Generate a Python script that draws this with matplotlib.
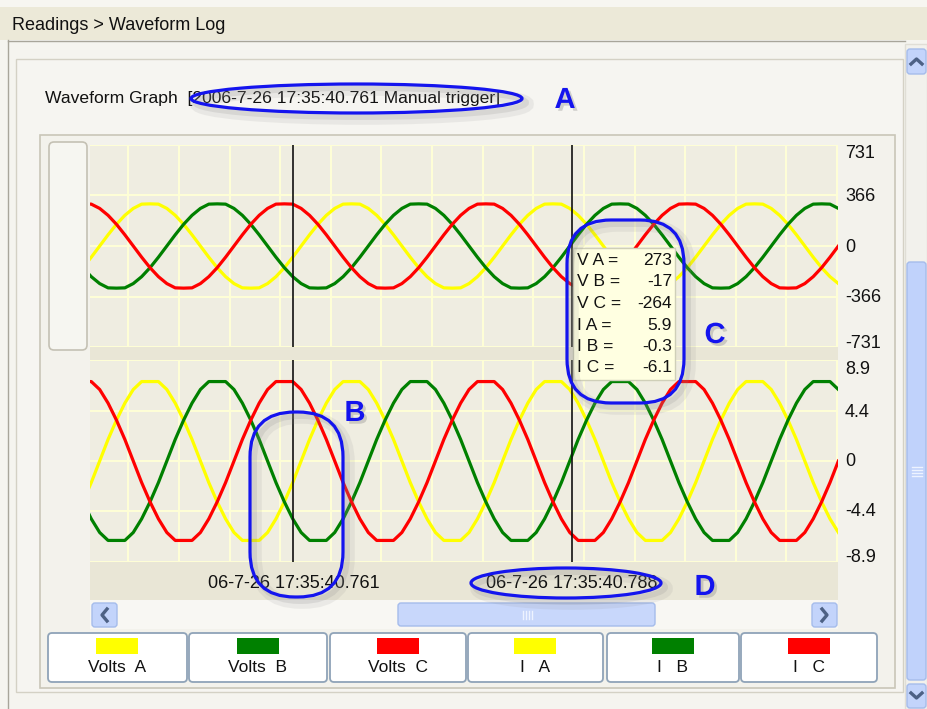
import numpy as np
import matplotlib
matplotlib.use('Agg')
import matplotlib.pyplot as plt
import matplotlib.patheffects as pe
from matplotlib.patches import Rectangle, FancyBboxPatch, Ellipse

plt.rcParams['font.family'] = ['Liberation Sans', 'DejaVu Sans']

# waveform log samples, one every 15 degrees of the cycle
sample_ms = 0.8142
first_sample_ms = -20.41   # relative to the trigger time

volts_a = [
    -157, -81, 0, 81, 157, 222, 272, 303,
    305, 303, 272, 222, 157, 81, 0, -81, -157, -222, -272, -303,
    -305, -303, -272, -222, -157, -81, 0, 81, 157, 222, 272, 303,
    305, 303, 272, 222, 157, 81, 0, -81, -157, -222, -272, -303,
    -305, -303, -272, -222, -157, -81, 0, 81, 157, 222, 272, 303,
    305, 303, 272, 222, 157, 81, 0, -81, -157, -222, -272, -303,
    -305, -303, -272, -222, -157, -81, 0, 81, 157, 222, 272, 303,
    305, 303, 272, 222, 157, 81, 0, -81, -157, -222, -272,
]
volts_b = [
    -157, -222, -272, -303,
    -305, -303, -272, -222, -157, -81, 0, 81, 157, 222, 272, 303,
    305, 303, 272, 222, 157, 81, 0, -81, -157, -222, -272, -303,
    -305, -303, -272, -222, -157, -81, 0, 81, 157, 222, 272, 303,
    305, 303, 272, 222, 157, 81, 0, -81, -157, -222, -272, -303,
    -305, -303, -272, -222, -157, -81, 0, 81, 157, 222, 272, 303,
    305, 303, 272, 222, 157, 81, 0, -81, -157, -222, -272, -303,
    -305, -303, -272, -222, -157, -81, 0, 81, 157, 222, 272, 303,
    305, 303, 272,
]
volts_c = [
    305, 303, 272, 222, 157, 81, 0, -81, -157, -222, -272, -303,
    -305, -303, -272, -222, -157, -81, 0, 81, 157, 222, 272, 303,
    305, 303, 272, 222, 157, 81, 0, -81, -157, -222, -272, -303,
    -305, -303, -272, -222, -157, -81, 0, 81, 157, 222, 272, 303,
    305, 303, 272, 222, 157, 81, 0, -81, -157, -222, -272, -303,
    -305, -303, -272, -222, -157, -81, 0, 81, 157, 222, 272, 303,
    305, 303, 272, 222, 157, 81, 0, -81, -157, -222, -272, -303,
    -305, -303, -272, -222, -157, -81, 0,
]
amps_a = [
    -3.6, -1.9, 0.0, 1.9, 3.6, 5.1, 6.3, 7.0,
    7.0, 7.0, 6.3, 5.1, 3.6, 1.9, 0.0, -1.9, -3.6, -5.1, -6.3, -7.0,
    -7.0, -7.0, -6.3, -5.1, -3.6, -1.9, 0.0, 1.9, 3.6, 5.1, 6.3, 7.0,
    7.0, 7.0, 6.3, 5.1, 3.6, 1.9, 0.0, -1.9, -3.6, -5.1, -6.3, -7.0,
    -7.0, -7.0, -6.3, -5.1, -3.6, -1.9, 0.0, 1.9, 3.6, 5.1, 6.3, 7.0,
    7.0, 7.0, 6.3, 5.1, 3.6, 1.9, 0.0, -1.9, -3.6, -5.1, -6.3, -7.0,
    -7.0, -7.0, -6.3, -5.1, -3.6, -1.9, 0.0, 1.9, 3.6, 5.1, 6.3, 7.0,
    7.0, 7.0, 6.3, 5.1, 3.6, 1.9, 0.0, -1.9, -3.6, -5.1, -6.3,
]
amps_b = [
    -3.6, -5.1, -6.3, -7.0,
    -7.0, -7.0, -6.3, -5.1, -3.6, -1.9, 0.0, 1.9, 3.6, 5.1, 6.3, 7.0,
    7.0, 7.0, 6.3, 5.1, 3.6, 1.9, 0.0, -1.9, -3.6, -5.1, -6.3, -7.0,
    -7.0, -7.0, -6.3, -5.1, -3.6, -1.9, 0.0, 1.9, 3.6, 5.1, 6.3, 7.0,
    7.0, 7.0, 6.3, 5.1, 3.6, 1.9, 0.0, -1.9, -3.6, -5.1, -6.3, -7.0,
    -7.0, -7.0, -6.3, -5.1, -3.6, -1.9, 0.0, 1.9, 3.6, 5.1, 6.3, 7.0,
    7.0, 7.0, 6.3, 5.1, 3.6, 1.9, 0.0, -1.9, -3.6, -5.1, -6.3, -7.0,
    -7.0, -7.0, -6.3, -5.1, -3.6, -1.9, 0.0, 1.9, 3.6, 5.1, 6.3, 7.0,
    7.0, 7.0, 6.3,
]
amps_c = [
    7.0, 7.0, 6.3, 5.1, 3.6, 1.9, 0.0, -1.9, -3.6, -5.1, -6.3, -7.0,
    -7.0, -7.0, -6.3, -5.1, -3.6, -1.9, 0.0, 1.9, 3.6, 5.1, 6.3, 7.0,
    7.0, 7.0, 6.3, 5.1, 3.6, 1.9, 0.0, -1.9, -3.6, -5.1, -6.3, -7.0,
    -7.0, -7.0, -6.3, -5.1, -3.6, -1.9, 0.0, 1.9, 3.6, 5.1, 6.3, 7.0,
    7.0, 7.0, 6.3, 5.1, 3.6, 1.9, 0.0, -1.9, -3.6, -5.1, -6.3, -7.0,
    -7.0, -7.0, -6.3, -5.1, -3.6, -1.9, 0.0, 1.9, 3.6, 5.1, 6.3, 7.0,
    7.0, 7.0, 6.3, 5.1, 3.6, 1.9, 0.0, -1.9, -3.6, -5.1, -6.3, -7.0,
    -7.0, -7.0, -6.3, -5.1, -3.6, -1.9, 0.0,
]

trigger_stamp = '2006-7-26 17:35:40.761'
trigger_kind = 'Manual trigger'
cursor_sec = [40.761, 40.788]
cursor_labels = ['06-7-26 17:35:40.761', '06-7-26 17:35:40.788']

volt_ticks = [731, 366, 0, -366, -731]
amp_ticks = [8.9, 4.4, 0, -4.4, -8.9]
amp_tick_labels = ['8.9', '4.4', '0', '-4.4', '-8.9']

readout_names = ['V A', 'V B', 'V C', 'I A', 'I B', 'I C']
readout_values = ['273', '-17', '-264', '5.9', '-0.3', '-6.1']

legend_labels = ['Volts  A', 'Volts  B', 'Volts  C', 'I   A', 'I   B', 'I   C']
phase_colors = ['#FFFF00', '#008000', '#FF0000']

PLOT_BG = '#EFEDE1'
STRIP = '#E9E6D6'
GRID = '#FFFFD6'
PANEL = '#F5F4EF'
BLUE = '#1414EE'
SCROLL = '#C3D4FB'
SCROLL_EDGE = '#A5BCEB'
ARROW = '#4D6185'

W, H = 927, 709
fig = plt.figure(figsize=(W / 100, H / 100), dpi=100)


def px_axes(x0, y0, x1, y1, z=1):
    return fig.add_axes([x0 / W, 1 - y1 / H, (x1 - x0) / W, (y1 - y0) / H], zorder=z)


bg = px_axes(0, 0, W, H, z=0)
bg.set_xlim(0, W)
bg.set_ylim(H, 0)
bg.axis('off')

# window chrome
bg.add_patch(Rectangle((0, 0), W, H, fc=PANEL, ec='none'))
bg.add_patch(Rectangle((0, 0), W, 40, fc='#ECE9D8', ec='none'))
bg.add_patch(Rectangle((0, 0), W, 7, fc='#F7F6F1', ec='none'))
bg.text(12, 26, 'Readings > Waveform Log', fontsize=13, va='center', color='#111111')
bg.plot([8, 905], [40.5, 40.5], color='#A8A59A', lw=1)
bg.plot([8.5, 8.5], [40, H], color='#A8A59A', lw=1)
bg.add_patch(Rectangle((16, 59), 887, 633, fc='#F6F5F1', ec='#D4D1C5', lw=1))
bg.text(45, 98, 'Waveform Graph  [' + trigger_stamp + ' ' + trigger_kind + ']',
        fontsize=12.6, va='center', color='#111111')

# chart frame
bg.add_patch(Rectangle((40, 135), 855, 553, fc='#F3F2EC', ec='#C9C6B8', lw=1.2))
bg.add_patch(FancyBboxPatch((49, 142), 38, 208, boxstyle='round,pad=0,rounding_size=5',
                            fc='#F6F6F1', ec='#C4C1B4', lw=1.2))
bg.add_patch(Rectangle((90, 347), 748, 13, fc=STRIP, ec='none'))
bg.add_patch(Rectangle((90, 562), 748, 38, fc=STRIP, ec='none'))

# horizontal scrollbar under the plots
bg.add_patch(Rectangle((90, 600), 748, 29, fc='#F8F7F3', ec='none'))
for x0, w in [(92, 25), (812, 25)]:
    bg.add_patch(FancyBboxPatch((x0, 603), w, 24, boxstyle='round,pad=0,rounding_size=3',
                                fc=SCROLL, ec=SCROLL_EDGE, lw=1))
bg.add_patch(FancyBboxPatch((398, 603), 257, 23, boxstyle='round,pad=0,rounding_size=3',
                            fc='#C8D7FB', ec=SCROLL_EDGE, lw=1))
for gx in [523, 526, 529, 532]:
    bg.plot([gx, gx], [611, 619], color='#EEF3FF', lw=1)
bg.plot([107, 102, 107], [609, 615, 621], color=ARROW, lw=2.4)
bg.plot([822, 827, 822], [609, 615, 621], color=ARROW, lw=2.4)

# vertical scrollbar on the right
bg.add_patch(Rectangle((905, 44), 22, H - 44, fc='#F2F1EC', ec='#E0DED6', lw=1))
for y0, h in [(49, 25), (684, 24)]:
    bg.add_patch(FancyBboxPatch((907, y0), 19, h, boxstyle='round,pad=0,rounding_size=3',
                                fc=SCROLL, ec=SCROLL_EDGE, lw=1))
bg.add_patch(FancyBboxPatch((907, 262), 19, 418, boxstyle='round,pad=0,rounding_size=3',
                            fc='#C0D2FB', ec=SCROLL_EDGE, lw=1))
for gy in [467, 470, 473, 476]:
    bg.plot([912, 922], [gy, gy], color='#EEF3FF', lw=1)
bg.plot([911, 916.5, 922], [64, 59, 64], color=ARROW, lw=2.4)
bg.plot([911, 916.5, 922], [693, 698, 693], color=ARROW, lw=2.4)

# legend buttons
button_x = [(48, 187), (189, 327), (330, 466), (468, 603), (607, 739), (741, 877)]
for (x0, x1), label, color in zip(button_x, legend_labels, phase_colors * 2):
    bg.add_patch(FancyBboxPatch((x0, 633), x1 - x0, 49, boxstyle='round,pad=0,rounding_size=4',
                                fc='white', ec='#8FA3B8', lw=1.3))
    cx = (x0 + x1) / 2
    bg.add_patch(Rectangle((cx - 21, 638), 42, 16, fc=color, ec='none'))
    bg.text(cx, 668, label, fontsize=12.5, ha='center', va='center', color='#111111')

# waveform plots
t_ms = first_sample_ms + sample_ms * np.arange(len(volts_a))
cursor_ms = [(s - cursor_sec[0]) * 1000 for s in cursor_sec]

ax_v = px_axes(90, 145, 838, 347)
ax_i = px_axes(90, 360, 838, 562)


def setup_wave_axes(ax, ticks, labels, series):
    lim = max(ticks)
    ax.set_facecolor(PLOT_BG)
    ax.set_xlim(-19.72, 52.83)
    ax.set_ylim(-lim, lim)
    ax.set_xticks(np.arange(-16.0, 53.0, 4.91))
    ax.set_yticks(ticks)
    ax.grid(True, color=GRID, lw=1.4)
    ax.tick_params(length=0, labelleft=False, labelbottom=False)
    for s in ax.spines.values():
        s.set_visible(False)
    for y, color in zip(series, phase_colors):
        ax.plot(t_ms, y, color=color, lw=2.3, solid_joinstyle='round')
    for c in cursor_ms:
        ax.axvline(c, color='#111111', lw=1.2)
    for i, (v, lab) in enumerate(zip(ticks, labels)):
        dy = -9 if i == 0 else (4 if i == len(ticks) - 1 else -1)
        ax.annotate(lab, xy=(1, v), xycoords=('axes fraction', 'data'), xytext=(7, dy),
                    textcoords='offset pixels', ha='left', va='center', fontsize=13,
                    color='#111111', annotation_clip=False)


setup_wave_axes(ax_v, volt_ticks, [str(v) for v in volt_ticks], [volts_a, volts_b, volts_c])
setup_wave_axes(ax_i, amp_ticks, amp_tick_labels, [amps_a, amps_b, amps_c])

for c, lab in zip(cursor_ms, cursor_labels):
    ax_i.annotate(lab, xy=(c, 0), xycoords=('data', 'axes fraction'), xytext=(0, -21),
                  textcoords='offset pixels', ha='center', va='center', fontsize=13,
                  color='#111111', annotation_clip=False)

# overlay: readout tooltip and the blue callouts
top = px_axes(0, 0, W, H, z=5)
top.set_xlim(0, W)
top.set_ylim(H, 0)
top.axis('off')

top.add_patch(Rectangle((573, 248), 102, 132, fc='#FFFFE1', ec='#CFCFB8', lw=1))
for i, (name, val) in enumerate(zip(readout_names, readout_values)):
    y = 260.5 + 21.5 * i
    top.text(577, y, name + ' =', fontsize=12.5, va='center', color='#111111')
    top.text(672, y, val, fontsize=12.5, va='center', ha='right', color='#111111')

shadow = [pe.SimpleLineShadow(offset=(4, -4), shadow_color='#8A8A8A', alpha=0.12, linewidth=9),
          pe.SimpleLineShadow(offset=(3, -3), shadow_color='#8A8A8A', alpha=0.18, linewidth=4),
          pe.Normal()]
callouts = [
    Ellipse((356.5, 98.5), 331, 29),
    FancyBboxPatch((567, 220), 117, 183, boxstyle='round,pad=0,rounding_size=44'),
    FancyBboxPatch((250, 412), 93, 185, boxstyle='round,pad=0,rounding_size=45'),
    Ellipse((566, 583), 190, 30),
]
for p in callouts:
    p.set_facecolor('none')
    p.set_edgecolor(BLUE)
    p.set_linewidth(2.3)
    p.set_path_effects(shadow)
    top.add_patch(p)

text_shadow = [pe.withSimplePatchShadow(offset=(2, -2), shadow_rgbFace='#888888', alpha=0.35)]
for letter, (x, y) in zip('ABCD', [(565, 100), (355, 413), (715, 335), (705, 587)]):
    top.text(x, y, letter, fontsize=21, fontweight='bold', color=BLUE, ha='center',
             va='center', path_effects=text_shadow)

fig.savefig('out.png', dpi=100)
